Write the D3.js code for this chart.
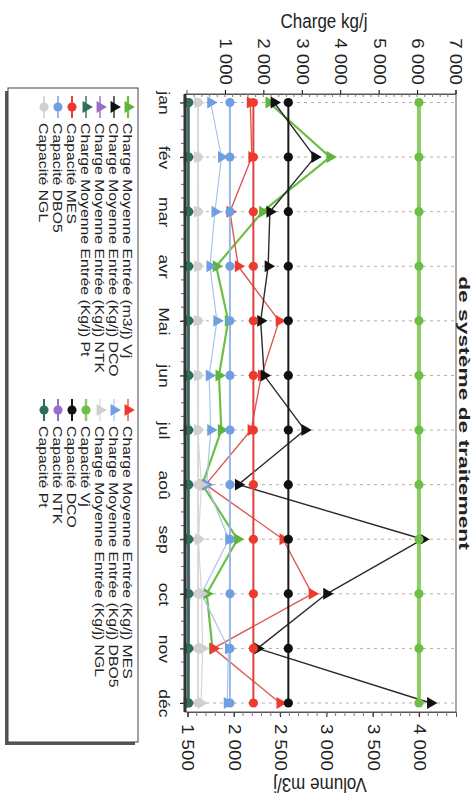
<!DOCTYPE html>
<html><head><meta charset="utf-8">
<script src="https://cdn.jsdelivr.net/npm/d3@7"></script>
<style>html,body{margin:0;padding:0;background:#fff;} svg{display:block;font-family:"Liberation Sans",Arial,sans-serif;}</style>
</head><body><svg id="c" width="472" height="807"></svg>
<script>
// ---------- data ----------
const months = ["jan","fév","mar","avr","Mai","jun","jul","aoû","sep","oct","nov","déc"];
const chargeTicks = [1000,2000,3000,4000,5000,6000,7000];
const volumeTicks = [1500,2000,2500,3000,3500,4000];

const chargeVj   = [2380,3040,2310,1810,1940,1840,1865,1660,2040,1708,1770,null];
const chargeMES  = [1660,1700,1130,1347,2410,1950,1680,500,2510,3270,700,2432];
const chargeDCO  = [2280,3340,2170,2125,1930,2020,3080,1350,6150,3648,1850,6350];
const chargeDBO5 = [630,910,740,610,790,590,630,523,1100,390,1090,1060];
const chargeNTK  = [30,30,35,40,70,60,40,30,70,80,60,40];
const chargeNGL  = [300,290,285,290,280,285,290,390,310,390,420,380];
const chargePt   = [20,20,22,25,25,22,20,20,25,25,22,20];

const capaciteVj   = [4000,4000,4000,4000,4000,4000,4000,4000,4000,4000,4000,4000];
const capaciteMES  = [1740,1740,1740,1740,1740,1740,1740,1740,1740,1740,1740,1740];
const capaciteDCO  = [2650,2650,2650,2650,2650,2650,2650,2650,2650,2650,2650,2650];
const capaciteDBO5 = [1130,1130,1130,1130,1130,1130,1130,1130,1130,1130,1130,1130];
const capaciteNTK  = [55,55,55,55,55,55,55,55,55,55,55,55];
const capaciteNGL  = [300,300,300,300,300,300,300,300,300,300,300,300];
const capacitePt   = [55,55,55,55,55,55,55,55,55,55,55,55];

const titleText = "de système de traitement";
const leftTitle = "Charge kg/j";
const rightTitle = "Volume m3/j";

// ---------- layout ----------
const SX = 1.17;               // scan stretch along page height
const svg = d3.select("#c");
const T = 94, B = 712, L = 185, R = 456;
const y  = d3.scalePoint().domain(months).range([102.5, 703]);
const xC = d3.scaleLinear().domain([0, 7000]).range([186.5, 455.5]);
const xV = d3.scaleLinear().domain([1500, 4400]).range([187.5, 456]);
const fmt = d => d3.format(",")(d).replace(/,/g, " ");

const series = [
  {name:"Charge Moyenne Entrée (m3/j) Vj",   data:chargeVj,   ax:xV, color:"#6cbf46", lw:2.2, m:"tri", mc:"#5fb53a"},
  {name:"Charge Moyenne Entrée (Kg/j) MES",  data:chargeMES,  ax:xC, color:"#dc5a52", lw:1.4, m:"tri", mc:"#ee3a2e"},
  {name:"Charge Moyenne Entrée (Kg/j) DCO",  data:chargeDCO,  ax:xC, color:"#2a2a2a", lw:1.4, m:"tri", mc:"#111"},
  {name:"Charge Moyenne Entrée (Kg/j) DBO5", data:chargeDBO5, ax:xC, color:"#a9c3ea", lw:1.2, m:"tri", mc:"#6f9fe0"},
  {name:"Charge Moyenne Entrée (Kg/j) NTK",  data:chargeNTK,  ax:xC, color:"#9b6cc6", lw:1.4, m:"tri", mc:"#9b6cc6"},
  {name:"Charge Moyenne Entrée (Kg/j) NGL",  data:chargeNGL,  ax:xC, color:"#d6d6d6", lw:1.2, m:"tri", mc:"#cfcfcf"},
  {name:"Charge Moyenne Entrée (Kg/j) Pt",   data:chargePt,   ax:xC, color:"#2f6e57", lw:1.4, m:"tri", mc:"#2f6e57"},
  {name:"Capacité Vj",   data:capaciteVj,   ax:xV, color:"#8ccd66", lw:4,   m:"dot", mc:"#6cbf46"},
  {name:"Capacité MES",  data:capaciteMES,  ax:xC, color:"#e04040", lw:2,   m:"dot", mc:"#ee3a2e"},
  {name:"Capacité DCO",  data:capaciteDCO,  ax:xC, color:"#1a1a1a", lw:2,   m:"dot", mc:"#111"},
  {name:"Capacité DBO5", data:capaciteDBO5, ax:xC, color:"#98b8e6", lw:2,   m:"dot", mc:"#6f9fe0"},
  {name:"Capacité NTK",  data:capaciteNTK,  ax:xC, color:"#9b6cc6", lw:2,   m:"dot", mc:"#9b6cc6"},
  {name:"Capacité NGL",  data:capaciteNGL,  ax:xC, color:"#d9d9d9", lw:2,   m:"dot", mc:"#d0d0d0"},
  {name:"Capacité Pt",   data:capacitePt,   ax:xC, color:"#2f6e57", lw:2,   m:"dot", mc:"#2f6e57"}
];

const triSym = d3.symbol().type(d3.symbolTriangle).size(62);
const dotSym = d3.symbol().type(d3.symbolCircle).size(66);
function drawMarker(g, s, cx, cy) {
  if (s.m === "tri") {
    g.append("path").attr("d", triSym()).attr("fill", s.mc)
      .attr("transform", `translate(${cx},${cy}) rotate(90)`);
  } else {
    g.append("path").attr("d", dotSym()).attr("fill", s.mc)
      .attr("transform", `translate(${cx},${cy})`);
  }
}

// gridlines at each month
svg.append("g").selectAll("line").data(months).join("line")
  .attr("x1", L).attr("x2", R).attr("y1", d => y(d)).attr("y2", d => y(d))
  .attr("stroke", "#b0b0b0").attr("stroke-width", 1).attr("stroke-dasharray", "3,4");

// frame
svg.append("rect").attr("x", L).attr("y", T).attr("width", R - L).attr("height", B - T)
  .attr("fill", "none").attr("stroke", "#555").attr("stroke-width", 1);

// top axis (charge)
const gTop = svg.append("g").attr("transform", `translate(0,${T})`)
  .call(d3.axisTop(xC).tickValues(chargeTicks).tickFormat(fmt).tickSize(4));
gTop.select(".domain").attr("stroke", "#555");
gTop.selectAll("text").attr("x", 0).attr("y", 0).attr("dy", "0.35em")
  .attr("text-anchor", "end").attr("font-size", 16).attr("fill", "#222")
  .attr("transform", `translate(0,-9) rotate(90) scale(${SX},1)`);
svg.append("g").selectAll("line").data(d3.range(200, 7000, 200)).join("line")
  .attr("x1", d => xC(d)).attr("x2", d => xC(d)).attr("y1", T).attr("y2", T + 3)
  .attr("stroke", "#777");

// bottom axis (volume)
const gBot = svg.append("g").attr("transform", `translate(0,${B})`)
  .call(d3.axisBottom(xV).tickValues(volumeTicks).tickFormat(fmt).tickSize(5));
gBot.select(".domain").attr("stroke", "#555");
gBot.selectAll("text").attr("x", 0).attr("y", 0).attr("dy", "0.35em")
  .attr("text-anchor", "start").attr("font-size", 16).attr("fill", "#222")
  .attr("transform", `translate(0,12) rotate(90) scale(${SX},1)`);
svg.append("g").selectAll("line").data(d3.range(1600, 4400, 100)).join("line")
  .attr("x1", d => xV(d)).attr("x2", d => xV(d)).attr("y1", B).attr("y2", B + 4)
  .attr("stroke", "#777");

// left axis (months)
const gL = svg.append("g").attr("transform", `translate(${L},0)`)
  .call(d3.axisLeft(y).tickSize(5));
gL.select(".domain").remove();
gL.selectAll("text").attr("x", 0).attr("y", 0).attr("dy", "0.35em")
  .attr("text-anchor", "middle").attr("font-size", 15).attr("fill", "#222")
  .attr("transform", `translate(-21,0) rotate(90) scale(${SX},1)`);
const step = y.step();
svg.append("g").selectAll("line")
  .data(d3.range(0, 11 * 4 + 1).map(i => y(months[0]) + i * step / 4))
  .join("line").attr("x1", L - 4).attr("x2", L).attr("y1", d => d).attr("y2", d => d)
  .attr("stroke", "#666");

// series: lines then markers
const plot = svg.append("g");
series.forEach(s => {
  const line = d3.line().defined(d => d != null)
    .x(d => s.ax(d)).y((d, i) => y(months[i]));
  plot.append("path").datum(s.data).attr("d", line)
    .attr("fill", "none").attr("stroke", s.color).attr("stroke-width", s.lw)
    .attr("stroke-linejoin", "round");
  const gm = plot.append("g");
  s.data.forEach((v, i) => { if (v != null) drawMarker(gm, s, s.ax(v), y(months[i])); });
});

// thick axis line (original category axis)
svg.append("line").attr("x1", L).attr("x2", L).attr("y1", T).attr("y2", B)
  .attr("stroke", "#333").attr("stroke-width", 3);

// axis titles
svg.append("text").text(leftTitle).attr("text-anchor", "middle").attr("font-size", 17)
  .attr("fill", "#222").attr("transform", `translate(324,28) scale(1,${SX})`);
svg.append("text").text(rightTitle).attr("text-anchor", "middle").attr("font-size", 17)
  .attr("fill", "#222").attr("transform", `translate(320,778) rotate(180) scale(1,${SX})`);

// title
svg.append("text").text(titleText).attr("text-anchor", "middle").attr("font-size", 15)
  .attr("font-weight", "bold").attr("fill", "#222")
  .attr("transform", `translate(459,413) rotate(90) scale(${SX * 1.3},1)`);

// legend
const lg = svg.append("g");
lg.append("rect").attr("x", 5).attr("y", 91).attr("width", 130).attr("height", 654)
  .attr("fill", "#555");
lg.append("rect").attr("x", 8).attr("y", 88).attr("width", 130).attr("height", 654)
  .attr("fill", "#fff").attr("stroke", "#444").attr("stroke-width", 1);
const rowX = [128, 114, 100, 86, 72, 58, 44];
const colY = [96, 399];
series.forEach((s, i) => {
  const cx = rowX[Math.floor(i / 2)], y0 = colY[i % 2];
  lg.append("line").attr("x1", cx).attr("x2", cx).attr("y1", y0).attr("y2", y0 + 22)
    .attr("stroke", s.color).attr("stroke-width", Math.min(s.lw, 2.5));
  drawMarker(lg, s, cx, y0 + 11);
  lg.append("text").text(s.name).attr("x", 0).attr("y", 0).attr("dy", "0.35em")
    .attr("font-size", 13.5).attr("fill", "#222")
    .attr("transform", `translate(${cx},${y0 + 27}) rotate(90) scale(${SX},1)`);
});
</script></body></html>
